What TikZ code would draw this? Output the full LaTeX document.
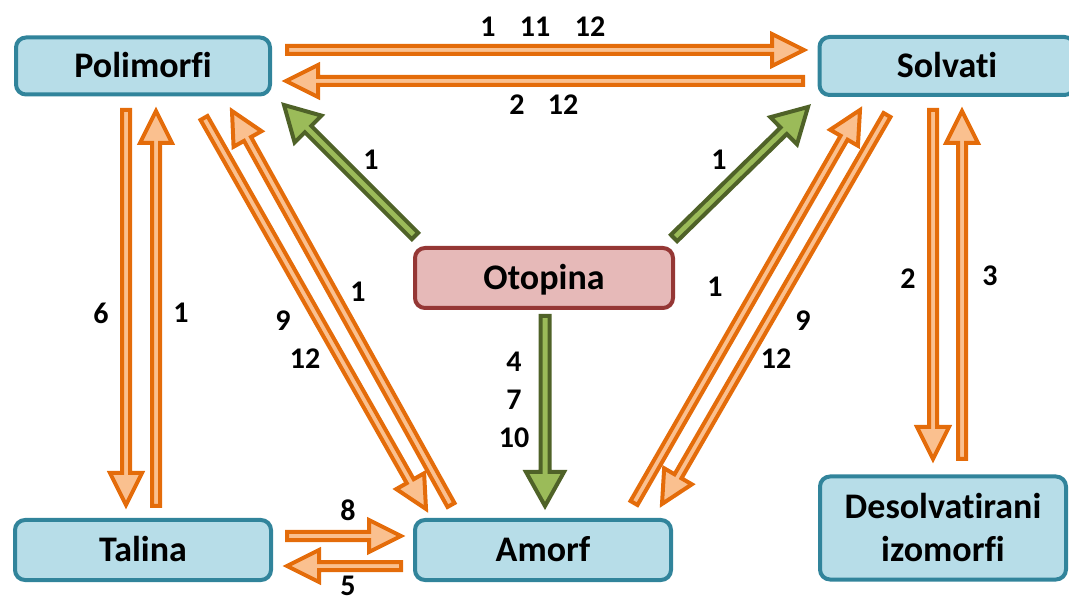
\documentclass[tikz,border=0pt]{standalone}
\usepackage{fontspec}
\setmainfont{Carlito}[Ligatures=NoCommon]
\usetikzlibrary{calc}
\definecolor{orS}{HTML}{E46C0A}
\definecolor{orF}{HTML}{FAC08F}
\definecolor{grS}{HTML}{4F6228}
\definecolor{grF}{HTML}{9BBB59}
\definecolor{boxB}{HTML}{31849B}
\definecolor{boxF}{HTML}{B7DDE8}
\definecolor{pinkB}{HTML}{953735}
\definecolor{pinkF}{HTML}{E6B9B8}
\tikzset{
  box/.style={draw=boxB, fill=boxF, line width=4pt, rounded corners=10pt,
    font=\fontsize{36}{43}\selectfont\bfseries, align=center, inner sep=0pt},
  onebox/.style={box, text height=23pt, text depth=0pt},
  pinkbox/.style={onebox, draw=pinkB, fill=pinkF},
  lab/.style={font=\fontsize{30}{36}\selectfont\bfseries, inner sep=0pt},
  oarr/.style={draw=orS, fill=orF, line width=4pt},
  garr/.style={draw=grS, fill=grF, line width=4pt},
}
% #1 style, #2 shaft half width, #3 head half width, #4 head length, #5 from, #6 to
\newcommand\blkarrow[6]{%
  \coordinate (ba-s) at (#5);
  \coordinate (ba-e) at (#6);
  \coordinate (ba-h) at ($(ba-e)!#4!(ba-s)$);
  \draw[#1] ($(ba-s)!#2!90:(ba-e)$) -- ($(ba-h)!#2!-90:(ba-s)$)
    -- ($(ba-h)!#3!-90:(ba-s)$) -- (ba-e) -- ($(ba-h)!#3!90:(ba-s)$)
    -- ($(ba-h)!#2!90:(ba-s)$) -- ($(ba-s)!#2!-90:(ba-e)$) -- cycle;
}
\newcommand\oarrow[2]{\blkarrow{oarr}{4pt}{16pt}{32pt}{#1}{#2}}
\newcommand\garrow[2]{\blkarrow{garr}{4.5pt}{19pt}{34pt}{#1}{#2}}
\begin{document}
\begin{tikzpicture}[x=1pt,y=-1pt]
\useasboundingbox (0,0) rectangle (1069,601);
% nodes
\node[onebox, minimum width=254pt, minimum height=57pt] (pol) at (143,66) {Polimorfi};
\node[onebox, minimum width=255pt, minimum height=58pt] (sol) at (947,66) {Solvati};
\node[pinkbox, minimum width=258pt, minimum height=60pt] (oto) at (544,278) {Otopina};
\node[onebox, minimum width=256pt, minimum height=60pt] (tal) at (143,550) {Talina};
\node[onebox, minimum width=256pt, minimum height=60pt] (amo) at (543,550) {Amorf};
\node[box, minimum width=246pt, minimum height=103pt] (des) at (943,528) {Desolvatirani\\izomorfi};
% arrow end points
\coordinate (a1s) at (287,50);  \coordinate (a1e) at (804,50);
\coordinate (a2s) at (803,81);  \coordinate (a2e) at (286,81);
\coordinate (a3s) at (126,110); \coordinate (a3e) at (126,505);
\coordinate (a4s) at (156,506); \coordinate (a4e) at (156,111);
\coordinate (a5s) at (204,118); \coordinate (a5e) at (426,509);
\coordinate (a6s) at (451,505); \coordinate (a6e) at (232,111);
\coordinate (a7s) at (415,236); \coordinate (a7e) at (284,105);
\coordinate (a8s) at (674,238); \coordinate (a8e) at (808,107);
\coordinate (a9s) at (545,316); \coordinate (a9e) at (545,506);
\coordinate (a10s) at (887,115); \coordinate (a10e) at (662,504);
\coordinate (a11s) at (634,503); \coordinate (a11e) at (860,110);
\coordinate (a12s) at (933,110); \coordinate (a12e) at (933,459);
\coordinate (a13s) at (962,459); \coordinate (a13e) at (962,111);
\coordinate (a14s) at (287,536); \coordinate (a14e) at (401,536);
\coordinate (a15s) at (401,566); \coordinate (a15e) at (287,566);
% arrows
\oarrow{a1s}{a1e}
\oarrow{a2s}{a2e}
\oarrow{a3s}{a3e}
\oarrow{a4s}{a4e}
\oarrow{a5s}{a5e}
\oarrow{a6s}{a6e}
\garrow{a7s}{a7e}
\garrow{a8s}{a8e}
\garrow{a9s}{a9e}
\oarrow{a10s}{a10e}
\oarrow{a11s}{a11e}
\oarrow{a12s}{a12e}
\oarrow{a13s}{a13e}
\oarrow{a14s}{a14e}
\oarrow{a15s}{a15e}
% labels
\node[lab] (l1) at (488,27) {1};
\node[lab] (l2) at (535,27) {11};
\node[lab] (l3) at (590,27) {12};
\node[lab] (l4) at (517,105) {2};
\node[lab] (l5) at (563,105) {12};
\node[lab] (l6) at (371,160) {1};
\node[lab] (l7) at (719,160) {1};
\node[lab] (l8) at (101,313) {6};
\node[lab] (l9) at (181,313) {1};
\node[lab] (l10) at (283,321) {9};
\node[lab] (l11) at (305,359) {12};
\node[lab] (l12) at (358,292) {1};
\node[lab] (l13) at (715,287) {1};
\node[lab] (l14) at (803,321) {9};
\node[lab] (l15) at (776,359) {12};
\node[lab] (l16) at (908,279) {2};
\node[lab] (l17) at (990,276) {3};
\node[lab] (l18) at (514,362) {4};
\node[lab] (l19) at (514,400) {7};
\node[lab] (l20) at (514,438) {10};
\node[lab] (l21) at (348,510) {8};
\node[lab] (l22) at (348,586) {5};
\end{tikzpicture}
\end{document}
